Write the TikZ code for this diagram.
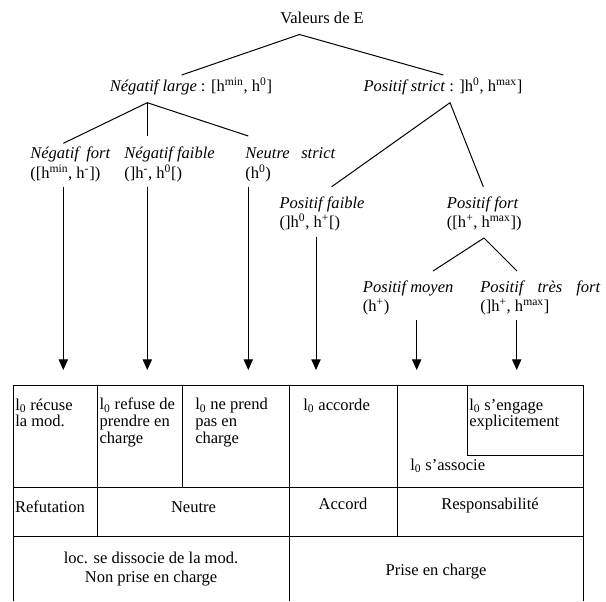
\documentclass[tikz,border=0pt]{standalone}
\usepackage{fontspec}
\setmainfont{Liberation Serif}
\usetikzlibrary{arrows.meta}

% multi-line nodes sit on the baseline of their last line
\tikzset{
  lbl/.style={anchor=base west, inner sep=0pt, align=left, font=\fontsize{12.4}{14.5}\selectfont},
  cell/.style={anchor=base west, inner sep=0pt, align=left, font=\fontsize{12.4}{12.5}\selectfont},
  mid/.style={anchor=base, inner sep=0pt, align=center, font=\fontsize{12.4}{14}\selectfont},
  branch/.style={line width=0.75pt},
  down/.style={line width=0.75pt, -{Triangle[length=8pt,width=7pt]}},
  grid/.style={line width=0.75pt},
}

\begin{document}
\begin{tikzpicture}[x=0.75pt,y=0.75pt,yscale=-1,xscale=1]
\useasboundingbox (0,0) rectangle (606,601);

% Text Node
\node [lbl] (valE) at (280,23.3) {Valeurs de E};
% Text Node
\node [lbl] (nlarge) at (109.5,91.5) {\textit{Négatif large} : [h\textsuperscript{min}, h\textsuperscript{0}]};
% Text Node
\node [lbl] (pstrict) at (363.3,91) {\textit{Positif strict} : ]h\textsuperscript{0}, h\textsuperscript{max}]};
% Text Node
\node [lbl] (nfort) at (30,178) {\makebox[60pt][s]{\itshape Négatif fort}\\([h\textsuperscript{min}, h\textsuperscript{-}])};
% Text Node
\node [lbl] (nfaible) at (124,178) {\textit{Négatif faible}\\(]h\textsuperscript{-}, h\textsuperscript{0}[)};
% Text Node
\node [lbl] (nstrict) at (245,178) {\makebox[67.5pt][s]{\itshape Neutre strict}\\(h\textsuperscript{0})};
% Text Node
\node [lbl] (pfaible) at (279.3,227.5) {\textit{Positif faible}\\(]h\textsuperscript{0}, h\textsuperscript{+}[)};
% Text Node
\node [lbl] (pfort) at (446.7,227.5) {\textit{Positif fort}\\([h\textsuperscript{+}, h\textsuperscript{max}])};
% Text Node
\node [lbl] (pmoyen) at (362.7,311.5) {\textit{Positif moyen}\\(h\textsuperscript{+})};
% Text Node
\node [lbl] (ptfort) at (480,311.5) {\makebox[90pt][s]{\itshape Positif très fort}\\(]h\textsuperscript{+}, h\textsuperscript{max}]};

% branch points
\coordinate (e0) at (299.5,34.5);
\coordinate (nl0) at (181.7,75);
\coordinate (ps0) at (443.3,75);
\coordinate (nl1) at (147.3,102.7);
\coordinate (nf0) at (63.3,143.3);
\coordinate (nb0) at (147.3,136);
\coordinate (ns0) at (248.3,136);
\coordinate (ps1) at (450,102.7);
\coordinate (pb0) at (331.7,186.7);
\coordinate (pf0) at (483.3,186.7);
\coordinate (pf1) at (484,238);
\coordinate (pm0) at (433,271);
\coordinate (pt0) at (517,271);

%Straight Lines
\draw [branch] (nl0) -- (e0) -- (ps0);
\draw [branch] (nf0) -- (nl1) -- (ns0);
\draw [branch] (nl1) -- (nb0);
\draw [branch] (pb0) -- (ps1) -- (pf0);
\draw [branch] (pm0) -- (pf1) -- (pt0);

% arrows
\coordinate (a1) at (63.3,186.7);   \coordinate (b1) at (63.3,370);
\coordinate (a2) at (147.3,186.7);  \coordinate (b2) at (147.3,370);
\coordinate (a3) at (248.3,186.7);  \coordinate (b3) at (248.3,370);
\coordinate (a4) at (316,236.7);    \coordinate (b4) at (316,370);
\coordinate (a5) at (416.7,320);    \coordinate (b5) at (416.7,370);
\coordinate (a6) at (516.7,320);    \coordinate (b6) at (516.7,370);
\foreach \i in {1,...,6}
  \draw [down] (a\i) -- (b\i);

%Table
\draw [grid] (13,601) |- (583,385.5) -- (583,601);
\draw [grid] (13,487) -- (583,487);
\draw [grid] (13,536.5) -- (583,536.5);
\draw [grid] (97.5,385.5) -- (97.5,536.5);
\draw [grid] (182,385.5) -- (182,487);
\draw [grid] (289.5,385.5) -- (289.5,601);
\draw [grid] (397,385.5) -- (397,536.5);
\draw [grid] (467,385.5) |- (583,455);

% Text Node
\node [cell] (recuse) at (15,426.7) {l\textsubscript{0} récuse\\la mod.};
% Text Node
\node [cell] (refuse) at (99.3,443.3) {l\textsubscript{0} refuse de\\prendre en\\charge};
% Text Node
\node [cell] (neprend) at (195,443.3) {l\textsubscript{0} ne prend\\pas en\\charge};
% Text Node
\node [cell] (accorde) at (303,410) {l\textsubscript{0} accorde};
% Text Node
\node [cell] (engage) at (469,426.7) {l\textsubscript{0} s’engage\\explicitement};
% Text Node
\node [cell] (associe) at (410,470) {l\textsubscript{0} s’associe};
% Text Node
\node [cell] (refut) at (14.8,512) {Refutation};
% Text Node
\node [mid] (neutre) at (193.5,512) {Neutre};
% Text Node
\node [mid] (accord) at (343,509.5) {Accord};
% Text Node
\node [mid] (resp) at (490,509.5) {Responsabilité};
% Text Node
\node [mid] (dissoc) at (151,582.5) {loc. se dissocie de la mod.\\Non prise en charge};
% Text Node
\node [mid] (prise) at (436,575) {Prise en charge};

\end{tikzpicture}
\end{document}
